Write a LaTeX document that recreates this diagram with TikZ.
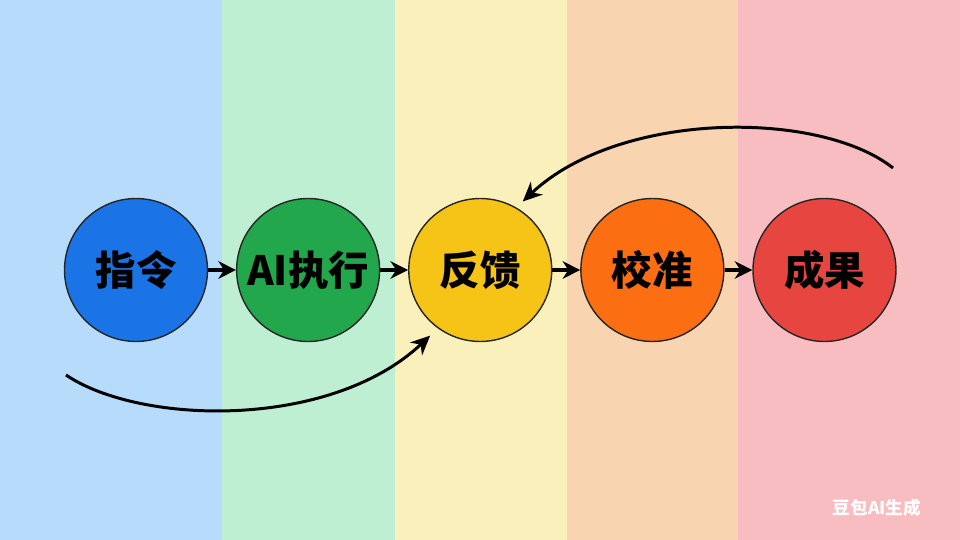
\documentclass[tikz,border=0pt]{standalone}
\usepackage{fontspec}
\usepackage{xcolor}
\usetikzlibrary{positioning, arrows.meta}
\newfontfamily\cjk{Noto Sans CJK SC}
\definecolor{bandBlue}{HTML}{B7DBFA}
\definecolor{bandGreen}{HTML}{BFEFD2}
\definecolor{bandYellow}{HTML}{FAF0BC}
\definecolor{bandOrange}{HTML}{F8D5B0}
\definecolor{bandPink}{HTML}{F8BDC1}
\definecolor{stageBlue}{HTML}{1A74E6}
\definecolor{stageGreen}{HTML}{22A74C}
\definecolor{stageYellow}{HTML}{F6C417}
\definecolor{stageOrange}{HTML}{FC6E12}
\definecolor{stageRed}{HTML}{E6463F}
\tikzset{
  stage/.style={circle, draw=black!85, line width=0.8pt, minimum size=2.86cm,
    inner sep=0pt, font=\cjk\bfseries\fontsize{23}{28}\selectfont},
  flow/.style={-{Stealth[length=10pt, width=10pt]}, line width=2pt, black},
  loop/.style={-{Stealth[length=11pt, width=10pt]}, line width=1.7pt, black}
}

\begin{document}
\begin{tikzpicture}[x=0.02cm, y=-0.02cm, node distance=0.555cm]
  \useasboundingbox (0,0) rectangle (960,540);
  % colour bands
  \fill[bandBlue] (0,0) rectangle (222,540);
  \fill[bandGreen] (222,0) rectangle (395,540);
  \fill[bandYellow] (395,0) rectangle (567,540);
  \fill[bandOrange] (567,0) rectangle (738,540);
  \fill[bandPink] (738,0) rectangle (960,540);

  % stages
  \node[stage, fill=stageBlue] (instr) at (136,270) {指令};
  \node[stage, fill=stageGreen, right=of instr] (exec) {AI执行};
  \node[stage, fill=stageYellow, right=of exec] (feed) {反馈};
  \node[stage, fill=stageOrange, right=of feed] (calib) {校准};
  \node[stage, fill=stageRed, right=of calib] (result) {成果};

  \draw[flow] (instr) -- (exec);
  \draw[flow] (exec) -- (feed);
  \draw[flow] (feed) -- (calib);
  \draw[flow] (calib) -- (result);

  % loops back to feedback
  \coordinate (lowStart) at (66,375);
  \coordinate (highStart) at (893,168);
  \draw[loop, shorten >=6pt] (lowStart) .. controls (140,425) and (330,430) .. (feed.234);
  \draw[loop, shorten >=5pt] (highStart) .. controls (820,110) and (620,110) .. (feed.60);

  \node[text=white, font=\cjk\bfseries\fontsize{10}{12}\selectfont] (mark) at (877,508) {豆包AI生成};
\end{tikzpicture}
\end{document}
